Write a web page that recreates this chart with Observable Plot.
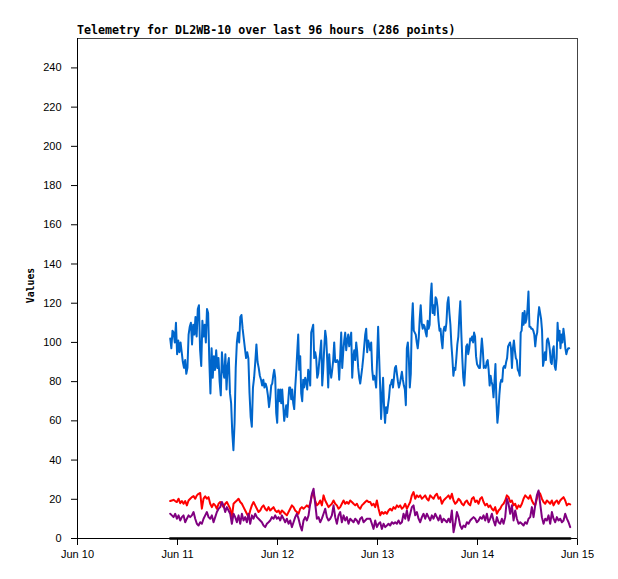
<!DOCTYPE html>
<html><head><meta charset="utf-8">
<script src="https://cdn.jsdelivr.net/npm/d3@7"></script>
<script src="https://cdn.jsdelivr.net/npm/@observablehq/plot@0.6"></script>
<style>html,body{margin:0;padding:0;background:#fff;} svg{display:block;}</style>
</head><body><div id="chart"></div>
<script>
const titleText = "Telemetry for DL2WB-10 over last 96 hours (286 points)";
const yLabelText = "Values";
const xTickDates = ["2023-06-10", "2023-06-11", "2023-06-12", "2023-06-13", "2023-06-14", "2023-06-15"];
const xTickLabels = ["Jun 10", "Jun 11", "Jun 12", "Jun 13", "Jun 14", "Jun 15"];
const yTicks = [0, 20, 40, 60, 80, 100, 120, 140, 160, 180, 200, 220, 240];
const seriesStart = "2023-06-10T22:15:00Z";
const seriesEnd = "2023-06-14T22:15:00Z";

// blue series, one array per 24 h of the window
const blueDay1 = [102,97,106,105,100,110,94,101,95,100,95,90,87,91,84,87,104,108,110,99,109,104,113,103,117,119,96,88,111,103,109,100,117,115,91,74,97,82,93,86,96,87,92,80,73,95,86,82,94,76,88,92,74,69,54,45,59,87,100,105,100,113,114,107,102,97,92,95,92,74,62,57,77,82,90,99,90,87,83,81,78,81,77,79,77,73,67];
const blueDay2 = [72,78,79,83,86,82,64,59,76,70,76,69,76,68,60,64,68,62,70,77,77,71,76,69,66,77,85,95,104,86,93,74,70,81,77,82,80,76,86,83,78,105,107,109,92,95,92,82,84,90,95,101,78,86,97,106,102,91,77,94,86,82,86,91,100,90,90,91,90,81,93,105,87,95,101,105,96,101,104,98,102,105,82,92,96,91,100,95,87,82,79,83,87,92,98,104,107,95,101,99];
const blueDay3 = [96,100,86,81,83,81,77,92,108,93,78,61,72,82,67,59,67,64,68,72,78,79,81,77,82,87,88,84,80,77,79,82,85,81,78,76,68,97,100,92,77,84,110,120,106,105,104,100,97,102,112,119,110,107,109,108,105,103,111,107,109,123,130,115,119,114,123,122,118,111,106,107,101,97,106,108,106,110,120,123,115,109,99,92,83,87,86,92,99,103,113,121,105,92,82,78,87,98,99,94,97];
const blueDay4 = [102,101,103,100,105,103,93,89,88,87,87,95,102,96,87,88,87,90,91,86,78,83,80,78,72,80,89,70,59,64,73,79,81,80,87,88,87,90,92,98,99,100,97,87,97,101,96,92,91,86,85,83,105,106,115,109,116,110,112,117,126,108,108,107,107,106,104,98,103,105,113,118,115,112,106,88,91,95,91,101,102,100,96,90,89,96,98,88,86,92,110,101,106,97,104,100,107,103,97,94,96,97,97];

// red series (two halves of the window)
const redPart1 = [19.1,19.4,19.7,19.1,18.6,20.3,18.0,19.1,17.7,19.1,16.9,19.4,20.3,21.1,21.6,20.3,22.0,22.8,23.2,15.2,20.3,21.5,20.3,21.1,17.7,16.0,17.7,16.9,15.2,17.7,18.6,17.4,16.0,17.7,18.6,16.9,15.2,10.9,17.7,18.6,19.4,20.3,18.6,17.7,16.0,14.3,12.6,10.9,14.3,16.9,18.6,16.9,15.2,13.5,14.3,16.0,16.9,15.2,14.3,16.0,14.3,15.2,16.0,14.3,13.5,14.3,12.6,14.3,13.5,12.6,11.8,13.5,15.2,16.9,16.0,14.3,13.5,12.6,15.2,16.0,15.2,16.0,16.9,16.0,17.7,22.0,22.8,19.4,16.9,17.7,19.4,16.9,22.0,19.4,17.7,16.0,16.9,17.7,19.4,17.7,16.9,15.2,16.0,17.7,19.4,17.7,18.6,17.7,19.4,18.6,17.7,16.9,17.7,16.0,15.2,16.9,17.7,18.6,19.4,18.6];
const redPart2 = [18.6,16.9,17.7,16.0,19.4,15.2,11.8,13.5,12.6,13.5,12.6,14.3,15.2,14.3,16.0,15.2,16.9,16.0,16.9,15.2,16.0,17.7,15.2,16.9,18.6,22.0,23.7,20.3,22.0,21.1,22.0,20.3,21.1,22.0,20.3,19.4,22.0,21.1,20.3,22.0,22.8,20.3,21.1,17.7,19.4,20.3,21.1,22.0,20.3,22.8,19.4,17.7,18.6,20.3,19.4,17.7,16.9,18.6,19.4,17.7,16.9,20.3,21.1,18.6,19.4,17.7,20.3,21.1,18.6,16.9,17.7,16.0,16.9,15.2,14.3,16.0,12.6,14.3,15.2,16.9,17.7,19.4,22.0,21.1,18.6,19.4,16.9,17.7,15.2,16.9,16.0,17.7,20.3,22.0,21.1,20.3,22.0,19.4,17.7,16.9,20.3,23.7,22.8,20.3,18.6,17.7,19.4,18.6,17.7,19.4,16.9,18.6,19.4,17.7,19.4,20.3,21.1,19.4,16.9,17.7,17.4];

// purple series (two halves of the window)
const purplePart1 = [12.6,11.8,10.9,12.6,10.1,11.8,9.2,10.9,11.8,8.3,10.1,11.8,10.9,11.8,13.5,10.1,7.5,6.6,8.3,7.5,10.1,11.8,13.5,10.9,10.1,11.8,8.3,10.9,13.5,15.2,16.0,18.6,16.9,13.5,16.0,14.3,12.6,7.5,12.6,10.9,8.3,11.8,7.5,12.6,9.2,10.9,8.3,12.6,7.5,11.8,10.1,12.6,10.9,10.1,9.2,8.3,6.6,5.8,7.5,8.3,9.2,10.9,10.1,11.8,10.1,10.9,9.2,11.8,10.1,8.3,10.1,7.5,9.2,5.8,8.3,10.9,12.6,10.1,6.6,4.1,9.2,10.9,9.2,11.8,17.7,22.8,25.4,17.7,10.1,10.9,8.3,10.1,12.6,15.2,10.9,9.2,10.1,11.8,16.9,10.9,7.5,11.8,13.5,8.3,11.8,9.2,10.9,7.5,10.1,9.2,8.3,10.1,9.2,7.5,10.1,10.9,8.3,9.2,10.1,10.1];
const purplePart2 = [10.1,7.5,4.9,9.2,5.8,7.5,8.3,4.9,7.5,5.8,6.6,7.5,6.6,8.3,7.5,8.3,7.5,9.2,7.5,8.3,12.6,10.1,14.3,9.2,12.6,16.0,16.9,11.8,13.5,10.1,8.3,10.9,12.6,10.1,12.6,10.9,9.2,11.8,10.1,12.6,10.9,9.2,11.8,8.3,10.1,9.2,8.3,10.1,8.3,14.3,3.2,7.5,13.5,10.9,6.6,4.9,6.6,5.8,8.3,7.5,9.2,10.1,10.9,10.1,8.3,9.2,10.9,10.1,11.8,9.2,12.6,8.3,10.1,12.6,9.2,6.6,10.9,8.3,7.5,10.1,7.5,10.9,20.3,17.7,12.6,16.9,9.2,14.3,10.1,7.5,8.3,7.5,6.6,8.3,7.5,10.1,10.9,16.0,10.9,16.9,22.0,24.5,17.7,10.9,7.5,10.1,9.2,11.8,7.5,13.5,10.1,8.3,10.9,9.2,10.1,8.3,9.2,12.6,10.1,8.3,5.8];

// black series sits on zero over the whole window
const blackSeries = [0, 0];

const colors = {blue: "#0066cc", red: "#ff0000", purple: "#800080", black: "#000000"};

const DAY = 864e5;
const t0 = +new Date(seriesStart);
const t1 = +new Date(seriesEnd);
const blueData = [blueDay1, blueDay2, blueDay3, blueDay4].flatMap((arr, k) =>
  arr.map((v, i) => ({t: new Date(t0 + (k + i / arr.length) * DAY), v})));
const spread = arr => arr.map((v, i) => ({t: new Date(t0 + (i / (arr.length - 1)) * (t1 - t0)), v}));
const redData = spread(redPart1.concat(redPart2));
const purpleData = spread(purplePart1.concat(purplePart2));
const blackData = spread(blackSeries);
const xTicks = xTickDates.map(s => new Date(s + "T00:00:00Z"));

const chart = Plot.plot({
  width: 618,
  height: 579,
  marginLeft: 77,
  marginRight: 41,
  marginTop: 38,
  marginBottom: 41,
  style: {fontFamily: "'Liberation Sans', Arial, sans-serif", fontSize: "11px", background: "#ffffff", color: "#000"},
  x: {type: "utc", domain: [xTicks[0], xTicks[xTicks.length - 1]], ticks: xTicks,
      tickFormat: d => xTickLabels[xTicks.findIndex(t => +t === +d)], tickSize: 7, tickPadding: 5, label: null},
  y: {domain: [0, 255], ticks: yTicks, tickSize: 6, tickPadding: 10, label: null},
  marks: [
    Plot.frame({stroke: "#444"}),
    Plot.ruleX([xTicks[0]], {stroke: "#000"}),
    Plot.ruleY([0], {stroke: "#000"}),
    Plot.line(blueData, {x: "t", y: "v", stroke: colors.blue, strokeWidth: 2}),
    Plot.line(redData, {x: "t", y: "v", stroke: colors.red, strokeWidth: 2}),
    Plot.line(purpleData, {x: "t", y: "v", stroke: colors.purple, strokeWidth: 2}),
    Plot.line(blackData, {x: "t", y: "v", stroke: colors.black, strokeWidth: 2.5})
  ]
});

const svg = d3.select(chart);
svg.append("text")
  .attr("x", 77).attr("y", 34)
  .attr("text-anchor", "start")
  .attr("font-family", "'DejaVu Sans Mono', 'Liberation Mono', monospace")
  .attr("font-weight", "bold").attr("font-size", "11.65px").attr("fill", "#000")
  .text(titleText);
svg.append("text")
  .attr("transform", "translate(34,285.5) rotate(-90)")
  .attr("text-anchor", "middle")
  .attr("font-family", "'DejaVu Sans Mono', 'Liberation Mono', monospace")
  .attr("font-weight", "bold").attr("font-size", "9.8px").attr("fill", "#000")
  .text(yLabelText);

document.getElementById("chart").appendChild(chart);
</script></body></html>
